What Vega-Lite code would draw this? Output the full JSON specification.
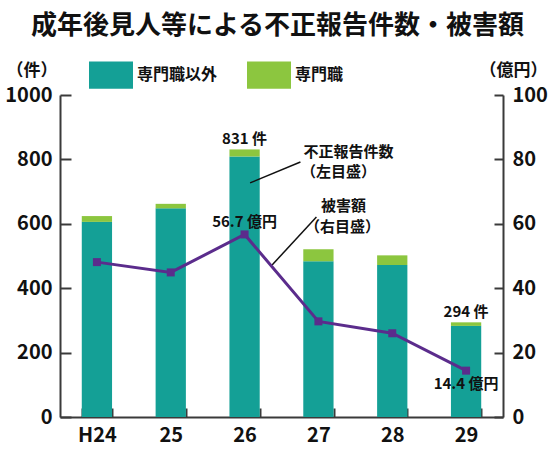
{
  "$schema": "https://vega.github.io/schema/vega-lite/v6.json",
  "width": 443,
  "height": 322,
  "autosize": {"type": "none"},
  "padding": {"left": 60, "top": 95, "right": 47, "bottom": 38},
  "title": {
    "text": "成年後見人等による不正報告件数・被害額",
    "fontSize": 26,
    "font": "Noto Sans CJK JP",
    "fontWeight": "bold",
    "color": "#111111",
    "anchor": "middle",
    "frame": "group",
    "offset": 14,
    "dx": -4
  },
  "config": {
    "view": {"stroke": null},
    "font": "Noto Sans CJK JP",
    "axis": {
      "grid": false,
      "domainColor": "#3a3a3a",
      "domainWidth": 2,
      "tickColor": "#3a3a3a",
      "tickWidth": 2,
      "labelFont": "Noto Sans CJK JP",
      "labelFontWeight": "bold",
      "labelFontSize": 20,
      "labelColor": "#111111",
      "titleFont": "Noto Sans CJK JP",
      "titleFontWeight": "bold",
      "titleFontSize": 17,
      "titleColor": "#111111"
    },
    "text": {"font": "Noto Sans CJK JP", "fontWeight": "bold", "fontSize": 15, "color": "#111111"}
  },
  "datasets": {
    "counts": [
      {"year": "H24", "type": "専門職以外", "count": 606},
      {"year": "H24", "type": "専門職", "count": 18},
      {"year": "25", "type": "専門職以外", "count": 648},
      {"year": "25", "type": "専門職", "count": 14},
      {"year": "26", "type": "専門職以外", "count": 809},
      {"year": "26", "type": "専門職", "count": 22},
      {"year": "27", "type": "専門職以外", "count": 484},
      {"year": "27", "type": "専門職", "count": 37},
      {"year": "28", "type": "専門職以外", "count": 472},
      {"year": "28", "type": "専門職", "count": 30},
      {"year": "29", "type": "専門職以外", "count": 283},
      {"year": "29", "type": "専門職", "count": 11}
    ],
    "countNotes": [
      {"year": "26", "count": 831, "label": "831 件"},
      {"year": "29", "count": 294, "label": "294 件"}
    ],
    "damage": [
      {"year": "H24", "amount": 48.1},
      {"year": "25", "amount": 44.9},
      {"year": "26", "amount": 56.7},
      {"year": "27", "amount": 29.7},
      {"year": "28", "amount": 26.0},
      {"year": "29", "amount": 14.4}
    ],
    "damageNotes": [
      {"year": "26", "amount": 56.7, "label": "56.7 億円", "place": "above"},
      {"year": "29", "amount": 14.4, "label": "14.4 億円", "place": "below"}
    ]
  },
  "encoding": {
    "x": {
      "field": "year",
      "type": "nominal",
      "scale": {
        "domain": ["H24", "25", "26", "27", "28", "29"],
        "paddingInner": 0.59,
        "paddingOuter": 0.295
      },
      "axis": {
        "title": null,
        "labelAngle": 0,
        "tickBand": "extent",
        "tickSize": -9,
        "labelPadding": 17
      }
    }
  },
  "layer": [
    {
      "layer": [
        {
          "data": {"name": "counts"},
          "mark": {"type": "bar"},
          "encoding": {
            "y": {
              "field": "count",
              "type": "quantitative",
              "stack": "zero",
              "scale": {"domain": [0, 1000], "nice": false},
              "axis": {
                "orient": "left",
                "values": [0, 200, 400, 600, 800, 1000],
                "format": "d",
                "tickSize": -11,
                "labelPadding": 19,
                "title": "（件）",
                "titleAngle": 0,
                "titleX": -54,
                "titleY": -25,
                "titleAlign": "left",
                "titleBaseline": "middle"
              }
            },
            "color": {
              "field": "type",
              "type": "nominal",
              "scale": {"domain": ["専門職以外", "専門職"], "range": ["#14A096", "#8CC63F"]},
              "legend": {
                "title": null,
                "orient": "none",
                "legendX": 29,
                "legendY": -42,
                "direction": "horizontal",
                "symbolType": "M-1,-0.62L1,-0.62L1,0.62L-1,0.62Z",
                "symbolSize": 1936,
                "symbolStrokeWidth": 0,
                "symbolOpacity": 1,
                "labelFont": "Noto Sans CJK JP",
                "labelFontWeight": "bold",
                "labelFontSize": 16,
                "labelColor": "#111111",
                "labelOffset": 4,
                "columnPadding": 29
              }
            },
            "order": {"field": "type", "sort": "descending"}
          }
        },
        {
          "data": {"name": "countNotes"},
          "mark": {"type": "text", "baseline": "bottom", "dy": -2},
          "encoding": {
            "y": {"field": "count", "type": "quantitative"},
            "text": {"field": "label"}
          }
        },
        {
          "data": {"values": [{}]},
          "mark": {"type": "rule", "color": "#111111", "strokeWidth": 1.5, "xOffset": 5.5, "x2Offset": -18},
          "encoding": {
            "x": {"datum": "26", "type": "nominal"},
            "x2": {"datum": "27"},
            "y": {"datum": 727, "type": "quantitative"},
            "y2": {"datum": 792}
          }
        },
        {
          "data": {"values": [{}]},
          "mark": {"type": "rule", "color": "#111111", "strokeWidth": 1.5, "xOffset": -2, "x2Offset": 27.5},
          "encoding": {
            "x": {"datum": "27", "type": "nominal"},
            "x2": {"datum": "26"},
            "y": {"datum": 621, "type": "quantitative"},
            "y2": {"datum": 472}
          }
        },
        {
          "data": {"values": [{}]},
          "mark": {"type": "text", "text": "不正報告件数", "dx": 30, "baseline": "middle"},
          "encoding": {
            "x": {"datum": "27", "type": "nominal"},
            "y": {"datum": 823, "type": "quantitative"}
          }
        },
        {
          "data": {"values": [{}]},
          "mark": {"type": "text", "text": "（左目盛）", "dx": 20, "baseline": "middle"},
          "encoding": {
            "x": {"datum": "27", "type": "nominal"},
            "y": {"datum": 761, "type": "quantitative"}
          }
        },
        {
          "data": {"values": [{}]},
          "mark": {"type": "text", "text": "被害額", "dx": 25, "baseline": "middle"},
          "encoding": {
            "x": {"datum": "27", "type": "nominal"},
            "y": {"datum": 655, "type": "quantitative"}
          }
        },
        {
          "data": {"values": [{}]},
          "mark": {"type": "text", "text": "（右目盛）", "dx": 24, "baseline": "middle"},
          "encoding": {
            "x": {"datum": "27", "type": "nominal"},
            "y": {"datum": 590, "type": "quantitative"}
          }
        }
      ]
    },
    {
      "layer": [
        {
          "data": {"name": "damage"},
          "mark": {
            "type": "line",
            "color": "#5B2C8C",
            "strokeWidth": 3,
            "point": {"shape": "square", "size": 64, "filled": true, "color": "#5B2C8C", "opacity": 1}
          },
          "encoding": {
            "y": {
              "field": "amount",
              "type": "quantitative",
              "scale": {"domain": [0, 100], "nice": false},
              "axis": {
                "orient": "right",
                "values": [0, 20, 40, 60, 80, 100],
                "tickSize": -9,
                "labelPadding": 18,
                "title": "（億円）",
                "titleAngle": 0,
                "titleX": -24,
                "titleY": -25,
                "titleAlign": "left",
                "titleBaseline": "middle"
              }
            }
          }
        },
        {
          "data": {"name": "damageNotes"},
          "transform": [{"filter": "datum.place === 'above'"}],
          "mark": {"type": "text", "baseline": "middle", "dy": -12},
          "encoding": {
            "y": {"field": "amount", "type": "quantitative"},
            "text": {"field": "label"}
          }
        },
        {
          "data": {"name": "damageNotes"},
          "transform": [{"filter": "datum.place === 'below'"}],
          "mark": {"type": "text", "baseline": "middle", "dy": 13},
          "encoding": {
            "y": {"field": "amount", "type": "quantitative"},
            "text": {"field": "label"}
          }
        }
      ]
    }
  ],
  "resolve": {"scale": {"y": "independent"}}
}
